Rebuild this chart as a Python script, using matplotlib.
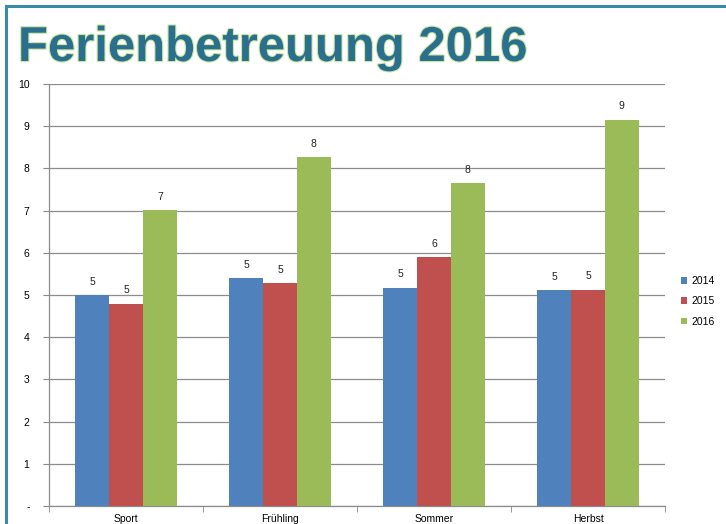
import matplotlib
matplotlib.use("Agg")
import matplotlib.pyplot as plt
import matplotlib.patheffects as pe
from matplotlib.lines import Line2D
import numpy as np

categories = ["Sport", "Frühling", "Sommer", "Herbst"]
series_names = ["2014", "2015", "2016"]
v2014 = [5.0, 5.40, 5.17, 5.11]
v2015 = [4.79, 5.28, 5.90, 5.13]
v2016 = [7.01, 8.26, 7.65, 9.15]
yticks = [0, 1, 2, 3, 4, 5, 6, 7, 8, 9, 10]
ytick_labels = ["-", "1", "2", "3", "4", "5", "6", "7", "8", "9", "10"]
colors = ["#4F81BD", "#C0504D", "#9BBB59"]

plt.rcParams['font.family'] = ['Liberation Sans', 'DejaVu Sans']

fig = plt.figure(figsize=(7.26, 5.24), dpi=100)
ax = fig.add_axes([49/726, 18/524, (665-49)/726, (506-84)/524])

x = np.arange(len(categories))
w = 0.22
for i, (vals, name) in enumerate(zip([v2014, v2015, v2016], series_names)):
    bars = ax.bar(x + (i-1)*w, vals, width=w, color=colors[i], label=name, zorder=3)
    for b, v in zip(bars, vals):
        ax.text(b.get_x()+b.get_width()/2, v + 0.2, f"{v:.0f}", ha="center", va="bottom",
                fontsize=7.5, color="#222222", zorder=4)

ax.set_xlim(-0.5, 3.5)
ax.set_ylim(0, 10)
ax.set_yticks(yticks)
ax.set_yticklabels(ytick_labels, fontsize=7.5)
ax.set_xticks(x)
ax.set_xticklabels(categories, fontsize=7.5)
ax.set_xticks(np.arange(-0.5, 4.0, 1.0), minor=True)
ax.tick_params(axis="x", which="major", length=0, pad=6)
ax.tick_params(axis="x", which="minor", length=4, color="#888888", direction="out")
ax.tick_params(axis="y", length=4, color="#888888", direction="out", pad=10)
ax.grid(axis="y", color="#8c8c8c", linewidth=0.9, zorder=0)
for s in ["top", "right"]:
    ax.spines[s].set_visible(False)
for s in ["left", "bottom"]:
    ax.spines[s].set_color("#8c8c8c")
    ax.spines[s].set_linewidth(0.9)

ax.legend(loc="center left", bbox_to_anchor=(1.01, 0.485), frameon=False, fontsize=7.5,
          handlelength=0.6, handleheight=0.6, handletextpad=0.4, labelspacing=1.0)

t = fig.text(18/726, 1 - 61/524, "Ferienbetreuung 2016", fontsize=35.3, fontweight="bold",
             color="#2B6F8E", va="baseline", ha="left")
t.set_path_effects([pe.Stroke(linewidth=1.6, foreground="#C9E8A0"), pe.Normal()])

fig.add_artist(Line2D([6/726, 6/726], [0, 1 - 6/524], color="#3A8CA6", linewidth=2.2,
                      transform=fig.transFigure))
fig.add_artist(Line2D([6/726, 1], [1 - 6/524, 1 - 6/524], color="#3A8CA6", linewidth=2.2,
                      transform=fig.transFigure))

fig.savefig("out.png", dpi=100)
